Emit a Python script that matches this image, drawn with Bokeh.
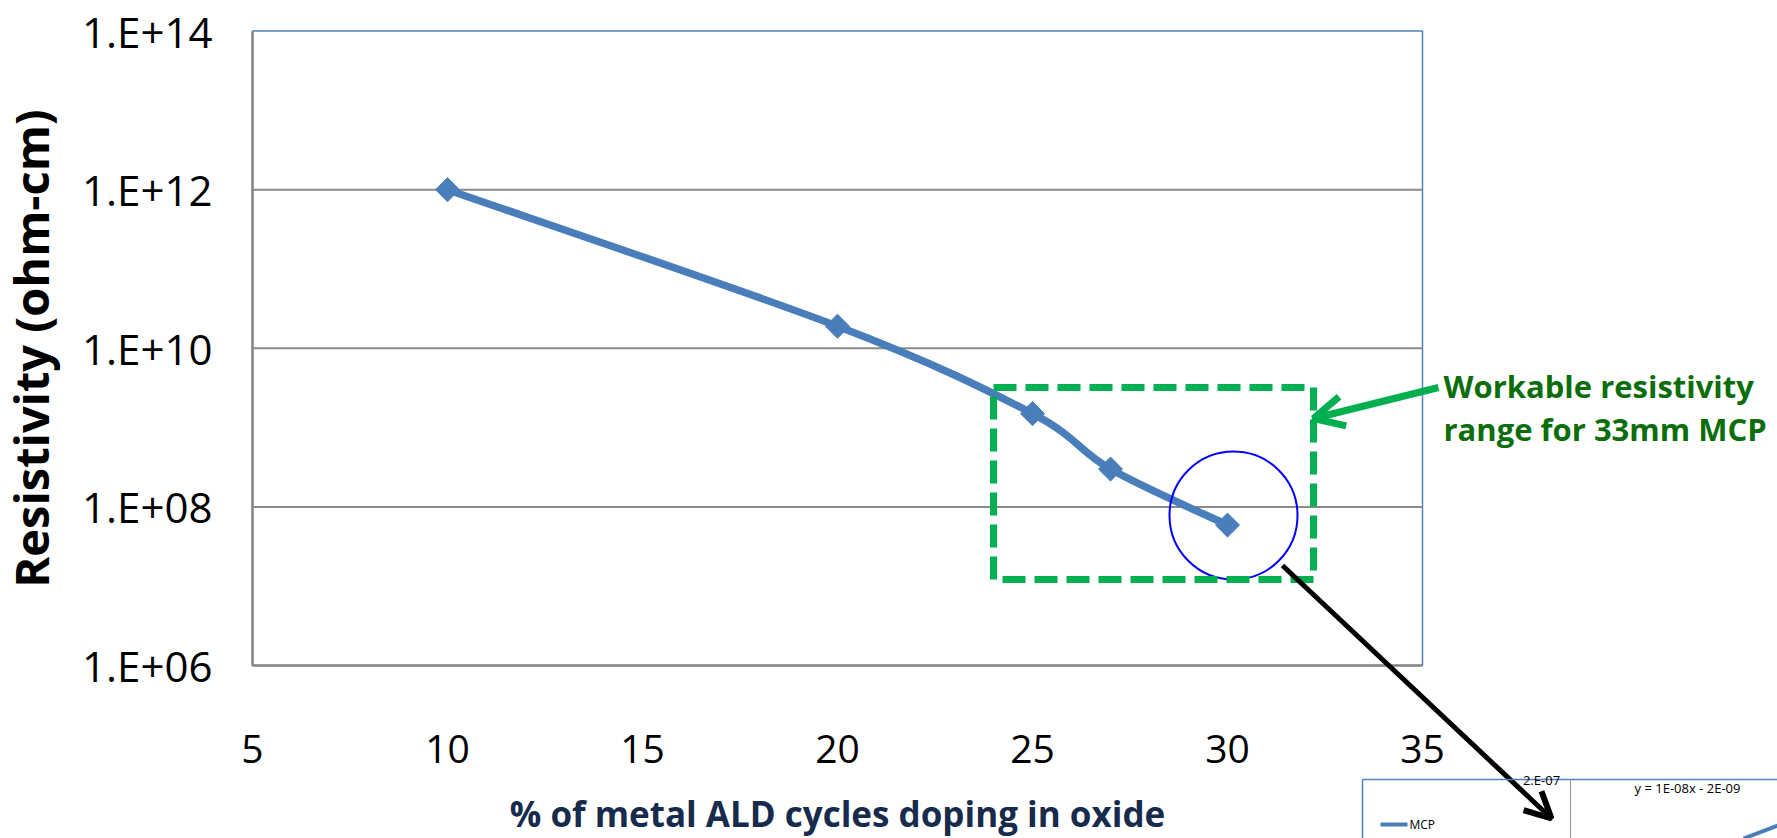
import numpy as np
from bokeh.plotting import figure
from bokeh.models import (FixedTicker, CustomJSTickFormatter, BoxAnnotation, Arrow,
                          OpenHead, Label, Range1d, LinearAxis, LogAxis, LogScale)
from bokeh.embed import file_html
from bokeh.resources import INLINE

# ---------------- data ----------------
DOPING_PCT = [10, 20, 25, 27, 30]
RESISTIVITY = [1.0e12, 1.9e10, 1.5e9, 3.0e8, 5.9e7]

X_TICKS = [5, 10, 15, 20, 25, 30, 35]
Y_TICKS = [1e6, 1e8, 1e10, 1e12, 1e14]
Y_TICK_LABELS = ["1.E+06", "1.E+08", "1.E+10", "1.E+12", "1.E+14"]

X_TITLE = "% of metal ALD cycles doping in oxide"
Y_TITLE = "Resistivity (ohm-cm)"
NOTE_LINES = ["Workable resistivity", "range for 33mm MCP"]
INSET_TEXTS = ["2.E-07", "y = 1E-08x - 2E-09", "MCP"]

# ---------------- styles / layout ----------------
BLUE = "#4A7EBB"
BORDER_BLUE = "#4F81BD"
GRID = "#8A8A8A"
AXIS_GRAY = "#878787"
GREEN = "#00B050"
DARK_GREEN = "#0B6E0B"
NAVY = "#172B4D"
FONT = "Open Sans"

W, H = 1777, 838
PLOT_L, PLOT_R, PLOT_T, PLOT_B = 252, 1422, 30.6, 665
XMIN, XMAX = X_TICKS[0], X_TICKS[-1]
LMIN, LMAX = np.log10(Y_TICKS[0]), np.log10(Y_TICKS[-1])
UX = (XMAX - XMIN) / (PLOT_R - PLOT_L)
UY = (LMAX - LMIN) / (PLOT_B - PLOT_T)


def px(xp, yp):
    """canvas pixel -> data coordinates (for annotation placement)"""
    return XMIN + (xp - PLOT_L) * UX, 10 ** (LMAX - (yp - PLOT_T) * UY)


x_rng = Range1d(XMIN - PLOT_L * UX, XMAX + (W - PLOT_R) * UX)
y_rng = Range1d(10 ** (LMIN - (H - PLOT_B) * UY), 10 ** (LMAX + PLOT_T * UY))

p = figure(width=W, height=H, x_range=x_rng, y_range=y_rng, y_axis_type="log",
           x_axis_location=None, y_axis_location=None,
           output_backend="svg", toolbar_location=None, min_border=0)
p.y_scale = LogScale()
p.outline_line_color = None
p.background_fill_color = "white"
p.border_fill_color = "white"
p.grid.visible = False

# plot-area border (blue, top/right visible; gray axes over left/bottom)
p.add_layout(BoxAnnotation(left=XMIN, right=XMAX, bottom=Y_TICKS[0], top=Y_TICKS[-1],
                           fill_alpha=0, line_color=BORDER_BLUE, line_alpha=1,
                           line_width=1.5, level="underlay"))

# horizontal gridlines
inner = Y_TICKS[1:-1]
p.segment(x0=[XMIN] * len(inner), y0=inner, x1=[XMAX] * len(inner), y1=inner,
          line_color=GRID, line_width=2)

# axes at the plot-area edges
yaxis = LogAxis(fixed_location=XMIN, bounds=(Y_TICKS[0], Y_TICKS[-1]),
                ticker=FixedTicker(ticks=Y_TICKS))
yaxis.formatter = CustomJSTickFormatter(
    args=dict(vals=Y_TICKS, labels=Y_TICK_LABELS),
    code="""
    for (let i = 0; i < vals.length; i++) {
        if (Math.abs(Math.log10(vals[i]) - Math.log10(tick)) < 1e-6) return labels[i];
    }
    return "";
    """)
xaxis = LinearAxis(fixed_location=Y_TICKS[0], bounds=(XMIN, XMAX),
                   ticker=FixedTicker(ticks=X_TICKS))

for ax in (xaxis, yaxis):
    ax.axis_line_color = AXIS_GRAY
    ax.axis_line_width = 2.5
    ax.major_tick_line_color = None
    ax.minor_tick_line_color = None
    ax.major_tick_out = 0
    ax.major_tick_in = 0
    ax.major_label_text_font = FONT
    ax.major_label_text_color = "black"
    ax.axis_label_text_font = FONT
    ax.axis_label_text_font_style = "bold"

xaxis.axis_label = X_TITLE
xaxis.axis_label_text_color = NAVY
xaxis.axis_label_text_font_size = "35px"
xaxis.major_label_text_font_size = "39px"
xaxis.major_label_standoff = 69
xaxis.axis_label_standoff = 24

yaxis.axis_label = Y_TITLE
yaxis.axis_label_text_color = "black"
yaxis.axis_label_text_font_size = "47px"
yaxis.major_label_text_font_size = "42px"
yaxis.major_label_standoff = 40
yaxis.axis_label_standoff = 16

p.add_layout(yaxis, "left")
p.add_layout(xaxis, "below")

# ---------------- smoothed line (Catmull-Rom as cubic Beziers, log-y space) ----
lx = np.array(DOPING_PCT, dtype=float)
ly = np.log10(np.array(RESISTIVITY, dtype=float))
n = len(lx)
x0, y0, x1, y1, cx0, cy0, cx1, cy1 = ([] for _ in range(8))
for i in range(n - 1):
    a = i - 1 if i > 0 else i
    d = i + 2 if i + 2 < n else i + 1
    x0.append(lx[i]); y0.append(10 ** ly[i])
    x1.append(lx[i + 1]); y1.append(10 ** ly[i + 1])
    cx0.append(lx[i] + (lx[i + 1] - lx[a]) / 6)
    cy0.append(10 ** (ly[i] + (ly[i + 1] - ly[a]) / 6))
    cx1.append(lx[i + 1] - (lx[d] - lx[i]) / 6)
    cy1.append(10 ** (ly[i + 1] - (ly[d] - ly[i]) / 6))
p.bezier(x0=x0, y0=y0, x1=x1, y1=y1, cx0=cx0, cy0=cy0, cx1=cx1, cy1=cy1,
         line_color=BLUE, line_width=7.5)
p.scatter(DOPING_PCT, RESISTIVITY, marker="square", size=17, angle=np.pi / 4,
          fill_color=BLUE, line_color=BLUE)

# ---------------- annotations ----------------
bl, bb = px(993, 579)
br, bt = px(1313, 387)
p.add_layout(BoxAnnotation(left=bl, right=br, top=bt, bottom=bb,
                           fill_alpha=0, line_color=GREEN, line_alpha=1,
                           line_width=7, line_dash="23 9"))
cx, cy = px(1233, 515)
p.scatter([cx], [cy], marker="circle", size=128, fill_color=None,
          line_color="#0000FF", line_width=2)


def arrow(p0, p1, color, width, head=None):
    xs, ys = px(*p0)
    xe, ye = px(*p1)
    p.add_layout(Arrow(end=head, x_start=xs, y_start=ys, x_end=xe, y_end=ye,
                       line_color=color, line_width=width))


arrow((1438, 387), (1313, 418), GREEN, 7,
      OpenHead(size=30, line_color=GREEN, line_width=7))
arrow((1282, 565), (1551, 818), "black", 5,
      OpenHead(size=26, line_color="black", line_width=6))


def label(xp, yp, text, size, color="black", bold=False, align="left", baseline="alphabetic"):
    x, y = px(xp, yp)
    p.add_layout(Label(x=x, y=y, text=text, text_font=FONT,
                       text_font_style="bold" if bold else "normal",
                       text_font_size=size, text_color=color,
                       text_align=align, text_baseline=baseline))


label(1443, 385, NOTE_LINES[0], "31px", DARK_GREEN, True)
label(1443, 428, NOTE_LINES[1], "31px", DARK_GREEN, True)

# ---------------- cut-off inset chart (bottom right) ----------------
arrow((1362, 779), (1800, 779), BORDER_BLUE, 1.5)
arrow((1362, 779), (1362, 860), BORDER_BLUE, 1.5)
arrow((1570, 779), (1570, 860), "#A0A0A0", 1.2)
arrow((1380, 824), (1407, 824), BLUE, 4)
arrow((1743, 838), (1780, 824), BLUE, 4)
label(1541, 779, INSET_TEXTS[0], "13px", align="center", baseline="middle")
label(1687, 787, INSET_TEXTS[1], "13px", align="center", baseline="middle")
label(1409, 824, INSET_TEXTS[2], "12px", align="left", baseline="middle")

open("out.html", "w").write(file_html(p, INLINE))
